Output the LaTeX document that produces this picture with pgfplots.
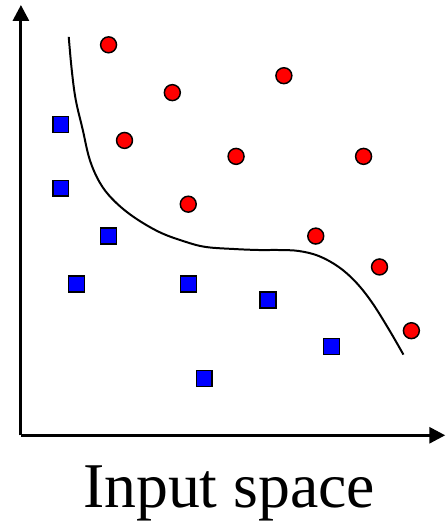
\documentclass[border=0pt]{standalone}
\usepackage{pgfplots}
\pgfplotsset{compat=1.18}
\usetikzlibrary{arrows.meta}
\usepackage{fontspec}
\setmainfont{Liberation Serif}

\begin{document}
\begin{tikzpicture}
\begin{axis}[
  x=0.75pt, y=0.75pt,
  xmin=0, xmax=426, ymin=0, ymax=432,
  axis lines=left,
  axis line style={line width=2.25pt, -{Triangle[width=12pt,length=12pt]}},
  xtick=\empty, ytick=\empty,
  clip=false,
]
% decision boundary
\addplot[black, line width=1.5pt, smooth, tension=0.6] coordinates {
  (48,400) (51,367) (55,337) (62,307) (69,277) (79,254) (92,237) (112,220)
  (139,204) (166,194) (186,189) (214,187) (239,186) (259,186) (279,185)
  (299,180) (319,169) (336,154) (352,134) (369,107) (384,81)
};
% class A
\addplot[only marks, mark=*, mark size=6pt,
  mark options={fill=red, draw=black, line width=1.1pt}] coordinates {
  (88,392) (152,344) (264,361) (104,296) (216,280) (344,280)
  (168,232) (296,200) (360,169) (392,105)
};
% class B
\addplot[only marks, mark=square*, mark size=6pt,
  mark options={fill=blue, draw=black, line width=1.1pt}] coordinates {
  (40,312) (40,248) (88,200) (56,152) (168,152) (248,136) (312,89) (184,57)
};
\node[anchor=base, font=\fontsize{48}{50}\selectfont] at (axis cs:209,-72) {Input space};
\path (axis cs:-21,-88) rectangle (axis cs:427,437);
\end{axis}
\end{tikzpicture}
\end{document}
